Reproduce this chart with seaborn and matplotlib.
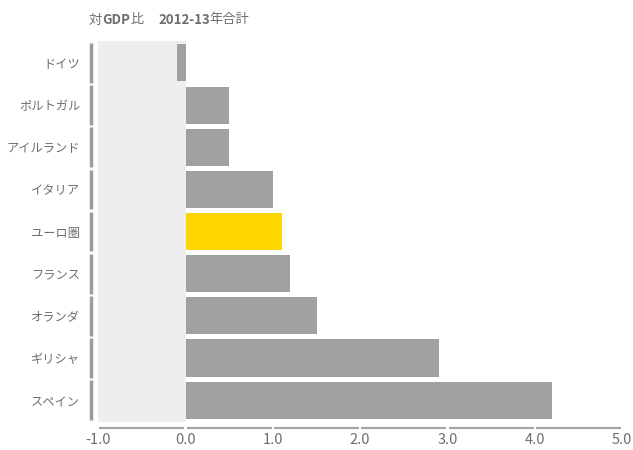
import matplotlib
matplotlib.use("Agg")
import matplotlib.pyplot as plt
import matplotlib.transforms as mtransforms
import seaborn as sns
import pandas as pd

# ---- data ----
countries = ['ドイツ', 'ポルトガル', 'アイルランド', 'イタリア', 'ユーロ圏',
             'フランス', 'オランダ', 'ギリシャ', 'スペイン']
values = [-0.1, 0.5, 0.5, 1.0, 1.1, 1.2, 1.5, 2.9, 4.2]
highlight = 'ユーロ圏'
x_ticks = [-1.0, 0.0, 1.0, 2.0, 3.0, 4.0, 5.0]
x_tick_labels = ['-1.0', '0.0', '1.0', '2.0', '3.0', '4.0', '5.0']
title_parts = [('対', 'normal'), ('GDP', 'bold'), ('比', 'normal'),
               ('2012-13', 'bold'), ('年合計', 'normal')]

BAR_GRAY = '#A0A19F'
YELLOW = '#FFD700'
BG = '#EEEEEE'
TEXT = '#6E6E6E'
AXIS_GRAY = '#A6A6A6'

sns.set_style('white')
plt.rcParams['font.family'] = ['Noto Sans CJK JP', 'DejaVu Sans']

df = pd.DataFrame({'country': countries, 'value': values})
palette = {c: (YELLOW if c == highlight else BAR_GRAY) for c in countries}

fig = plt.figure(figsize=(6.33, 4.5), dpi=100)
ax = fig.add_axes([98.3 / 633, 1 - 421.7 / 450, (622 - 98.3) / 633, (421.7 - 41) / 450])

sns.barplot(data=df, y='country', x='value', hue='country', palette=palette,
            order=countries, hue_order=countries, orient='h', width=0.88,
            saturation=1, legend=False, ax=ax, zorder=2, linewidth=0,
            edgecolor='none')

ax.axvspan(-1, 0, color=BG, zorder=0, lw=0)

ax.set_xlim(-1, 5)
ax.set_ylim(len(countries) - 0.49, -0.52)

for s in ax.spines.values():
    s.set_visible(False)

ax.set_xlabel('')
ax.set_ylabel('')
ax.set_xticks(x_ticks)
ax.set_xticklabels(x_tick_labels)
ax.tick_params(axis='x', length=0, pad=8, labelsize=10.5, colors=TEXT)
ax.tick_params(axis='y', length=0, pad=13, labelsize=8.8, colors=TEXT)

# segmented y "axis" (one segment per category band)
trans_y = mtransforms.blended_transform_factory(ax.transAxes, ax.transData)
seg_x = -(98.3 - 91) / (622 - 98.3)
for i in range(len(countries)):
    ax.plot([seg_x, seg_x], [i - 0.47, i + 0.47], transform=trans_y,
            color='#9C9C9C', lw=2.5, solid_capstyle='butt', clip_on=False)

# segmented x "axis" (one segment between consecutive ticks)
trans_x = mtransforms.blended_transform_factory(ax.transData, ax.transAxes)
seg_y = -(428.3 - 421.7) / (421.7 - 41)
for a, b in zip(x_ticks[:-1], x_ticks[1:]):
    ax.plot([a + 0.013, b - 0.013], [seg_y, seg_y], transform=trans_x,
            color=AXIS_GRAY, lw=1.6, solid_capstyle='butt', clip_on=False)

# title made of pieces (mixed weights)
gaps = [0, 0.3, 0.3, 10, 0]
prev = fig.text(89 / 633, 1 - 20 / 450, title_parts[0][0], fontsize=9.5,
                fontweight=title_parts[0][1], color=TEXT, va='center', ha='left')
for (txt, wt), g in zip(title_parts[1:], gaps[1:]):
    prev = ax.annotate(txt, xy=(1, 0), xycoords=prev, xytext=(g, 0),
                       textcoords='offset points', fontsize=9.5, fontweight=wt,
                       color=TEXT, va='bottom', ha='left', annotation_clip=False)

fig.savefig('out.png', dpi=100)
